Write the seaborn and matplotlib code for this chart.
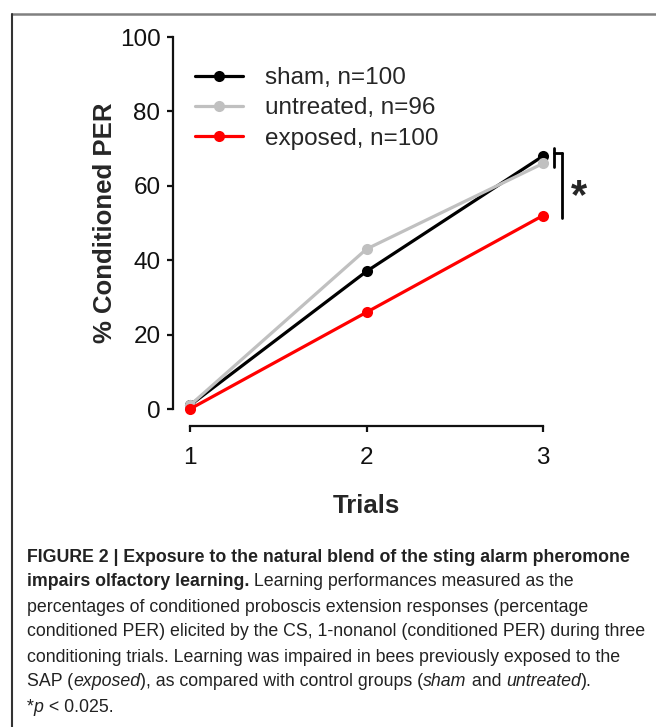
import pandas as pd
import seaborn as sns
import matplotlib.pyplot as plt
from matplotlib.lines import Line2D

# data
trials = [1, 2, 3]
sham = [1, 37, 68]
untreated = [1, 43, 66]
exposed = [0, 26, 52]
groups = ['sham, n=100', 'untreated, n=96', 'exposed, n=100']
colors = ['#000000', '#c0c0c0', '#ff0000']

df = pd.DataFrame({
    'Trials': trials * 3,
    'PER': sham + untreated + exposed,
    'group': [groups[0]] * 3 + [groups[1]] * 3 + [groups[2]] * 3,
})

sns.set_style('white')
plt.rcParams['font.family'] = ['Liberation Sans', 'DejaVu Sans']

fig = plt.figure(figsize=(6.56, 7.27), dpi=100)
ax = fig.add_axes([173 / 656, 1 - 426 / 727, (560 - 173) / 656, (426 - 37) / 727])

sns.lineplot(data=df, x='Trials', y='PER', hue='group', hue_order=groups,
             palette=colors, marker='o', markersize=8, markeredgewidth=0,
             linewidth=2.3, ax=ax)

ax.set_xlim(1 - 17 / 176.5, 1 + (560 - 190) / 176.5)
ax.set_ylim(-17 / 3.72, 100)
ax.set_xticks(trials)
ax.set_yticks([0, 20, 40, 60, 80, 100])
for s in ['top', 'right']:
    ax.spines[s].set_visible(False)
ax.spines['left'].set_bounds(0, 100)
ax.spines['bottom'].set_bounds(1, 3)
for s in ['left', 'bottom']:
    ax.spines[s].set_linewidth(1.6)
    ax.spines[s].set_color('#111111')
ax.tick_params(axis='both', direction='out', length=4, width=1.6, labelsize=17.5,
               colors='#111111', bottom=True, left=True)
ax.tick_params(axis='x', pad=11)
ax.tick_params(axis='y', pad=5)
ax.set_xlabel('Trials', fontsize=18.5, fontweight='bold', labelpad=18)
ax.set_ylabel('% Conditioned PER', fontsize=18.5, fontweight='bold')
ax.yaxis.set_label_coords((117 - 173) / 387, (426 - 223) / 389)

leg = ax.legend(loc='upper left', bbox_to_anchor=(0.0, 0.978), frameon=False,
                fontsize=17.5, handlelength=2.0, handletextpad=0.9, labelspacing=0.33)

# significance brackets
ax.plot([3.065, 3.065], [65.1, 70.2], color='black', lw=2, clip_on=False)
ax.plot([3.065, 3.11], [68.8, 68.8], color='black', lw=2, clip_on=False)
ax.plot([3.11, 3.11], [68.8, 51.3], color='black', lw=2, clip_on=False)
ax.text(3.205, 57, '*', fontsize=30, fontweight='bold', ha='center', va='center')

# figure frame
fig.add_artist(Line2D([12 / 656, 1], [1 - 14 / 727] * 2, color='#808080', lw=1.8))
fig.add_artist(Line2D([12 / 656] * 2, [1 - 14 / 727, 0], color='#333333', lw=1.5))

# caption
cap_font = ['Liberation Sans Narrow', 'Liberation Sans', 'DejaVu Sans']
cap_size = 12.75
lines = [
    [('FIGURE 2 | Exposure to the natural blend of the sting alarm pheromone', 'bold', 'normal')],
    [('impairs olfactory learning.', 'bold', 'normal'),
     (' Learning performances measured as the', 'normal', 'normal')],
    [('percentages of conditioned proboscis extension responses (percentage', 'normal', 'normal')],
    [('conditioned PER) elicited by the CS, 1-nonanol (conditioned PER) during three', 'normal', 'normal')],
    [('conditioning trials. Learning was impaired in bees previously exposed to the', 'normal', 'normal')],
    [('SAP (', 'normal', 'normal'), ('exposed', 'normal', 'italic'),
     ('), as compared with control groups (', 'normal', 'normal'), ('sham', 'normal', 'italic'),
     (' and ', 'normal', 'normal'), ('untreated', 'normal', 'italic'), (').', 'normal', 'normal')],
    [('*', 'normal', 'normal'), ('p', 'normal', 'italic'), (' < 0.025.', 'normal', 'normal')],
]
fig.canvas.draw()
renderer = fig.canvas.get_renderer()
y0 = 557
for i, segs in enumerate(lines):
    xpix = 27
    ypix = y0 + 25 * i
    for txt, weight, style in segs:
        t = fig.text(xpix / 656, 1 - ypix / 727, txt, fontsize=cap_size, family=cap_font,
                     fontweight=weight, fontstyle=style, color='#222222',
                     ha='left', va='center')
        bb = t.get_window_extent(renderer=renderer)
        xpix += bb.width

fig.savefig('out.png', dpi=100)
